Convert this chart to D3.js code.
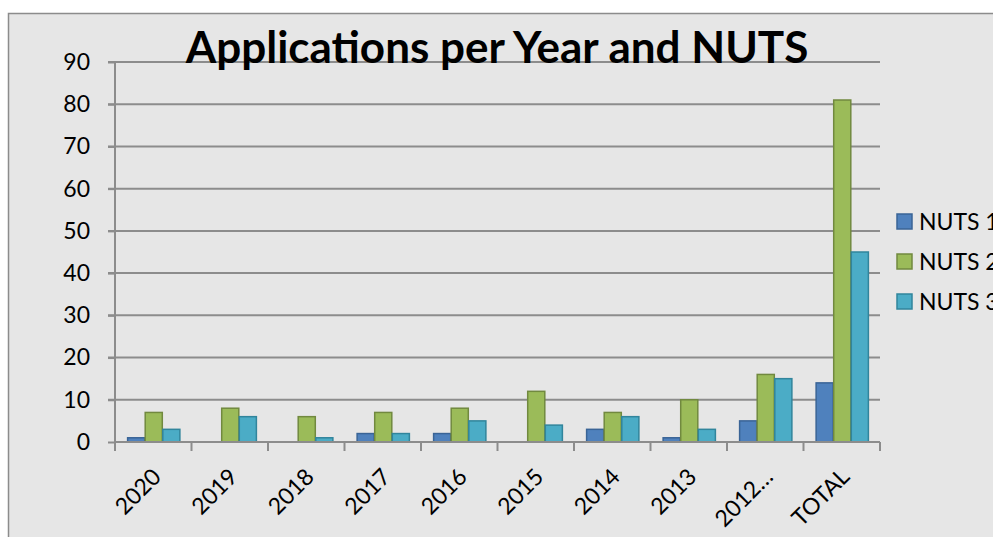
<!DOCTYPE html>
<html><head><meta charset="utf-8">
<script src="https://cdn.jsdelivr.net/npm/d3@7"></script>
<style>body{margin:0;background:#fff;}svg{display:block;}text{font-family:Lato,"Open Sans",sans-serif;}</style>
</head><body>
<svg id="c" width="993" height="537"></svg>
<script>
const categories = ["2020","2019","2018","2017","2016","2015","2014","2013","2012…","TOTAL"];
const seriesNames = ["NUTS 1","NUTS 2","NUTS 3"];
const nuts1 = [1,0,0,2,2,0,3,1,5,14];
const nuts2 = [7,8,6,7,8,12,7,10,16,81];
const nuts3 = [3,6,1,2,5,4,6,3,15,45];
const yTicks = [0,10,20,30,40,50,60,70,80,90];
const fills = ["#4f81bd","#9bbb59","#4bacc6"];
const strokes = ["#3a6496","#71893f","#31859c"];
const series = [nuts1,nuts2,nuts3];

const svg = d3.select("#c");
svg.append("rect").attr("x",8.5).attr("y",13.5).attr("width",1000).attr("height",600)
  .attr("fill","#e6e6e6").attr("stroke","#8c8c8c").attr("stroke-width",1.5);

const L=115,R=880,T=62,B=442;
const x = d3.scaleBand().domain(categories).range([L,R]).paddingInner(0).paddingOuter(0);
const xi = d3.scaleBand().domain(seriesNames).range([0,x.bandwidth()]).paddingInner(0).paddingOuter(0.675);
const y = d3.scaleLinear().domain([0,90]).range([B,T]);

// gridlines
svg.append("g").selectAll("line").data(yTicks.filter(d=>d>0)).join("line")
  .attr("x1",L-7).attr("x2",R).attr("y1",d=>y(d)).attr("y2",d=>y(d))
  .attr("stroke","#8c8c8c").attr("stroke-width",2);

// y axis
const ya = svg.append("g").attr("transform",`translate(${L},0)`)
  .call(d3.axisLeft(y).tickValues(yTicks).tickSize(7).tickPadding(18));
ya.select(".domain").remove();
ya.selectAll(".tick line").attr("stroke","#8c8c8c").attr("stroke-width",2);
ya.selectAll(".tick text").attr("font-size",23).attr("fill","#000");
svg.append("line").attr("x1",L).attr("x2",L).attr("y1",T).attr("y2",B+8)
  .attr("stroke","#8c8c8c").attr("stroke-width",2);

// bars
series.forEach((vals,si)=>{
  svg.append("g").selectAll("rect").data(vals).join("rect")
    .attr("x",(d,i)=>x(categories[i])+xi(seriesNames[si])+0.75)
    .attr("width",xi.bandwidth()-0.5)
    .attr("y",d=>y(d))
    .attr("height",d=>B-y(d))
    .attr("fill",fills[si]).attr("stroke",strokes[si]).attr("stroke-width",1.5);
});

// x axis
const xa = svg.append("g").attr("transform",`translate(0,${B})`)
  .call(d3.axisBottom(x).tickSize(0).tickFormat(""));
xa.select(".domain").remove();
svg.append("line").attr("x1",L).attr("x2",R).attr("y1",B).attr("y2",B).attr("stroke","#8c8c8c").attr("stroke-width",2);
svg.append("g").selectAll("line").data(categories.concat(["end"])).join("line")
  .attr("x1",(d,i)=>L+i*x.bandwidth()).attr("x2",(d,i)=>L+i*x.bandwidth())
  .attr("y1",B).attr("y2",B+9).attr("stroke","#8c8c8c").attr("stroke-width",2);
svg.append("g").selectAll("text").data(categories).join("text")
  .attr("transform",d=>`translate(${x(d)+x.bandwidth()/2-3},${B+24}) rotate(-45)`)
  .attr("text-anchor","end").attr("dy","0.75em").attr("font-size",23).attr("fill","#000")
  .text(d=>d);

// title
svg.append("text").attr("x",497).attr("y",63).attr("text-anchor","middle")
  .attr("font-size",44).attr("font-weight","bold").attr("fill","#000")
  .text("Applications per Year and NUTS");

// legend
const lg = svg.append("g").selectAll("g").data(seriesNames).join("g")
  .attr("transform",(d,i)=>`translate(897,${214+i*40})`);
lg.append("rect").attr("width",15).attr("height",15)
  .attr("fill",(d,i)=>fills[i]).attr("stroke",(d,i)=>strokes[i]).attr("stroke-width",1.5);
lg.append("text").attr("x",22).attr("y",8).attr("dy","0.36em").attr("font-size",23).attr("fill","#000").text(d=>d);
</script>
</body></html>
